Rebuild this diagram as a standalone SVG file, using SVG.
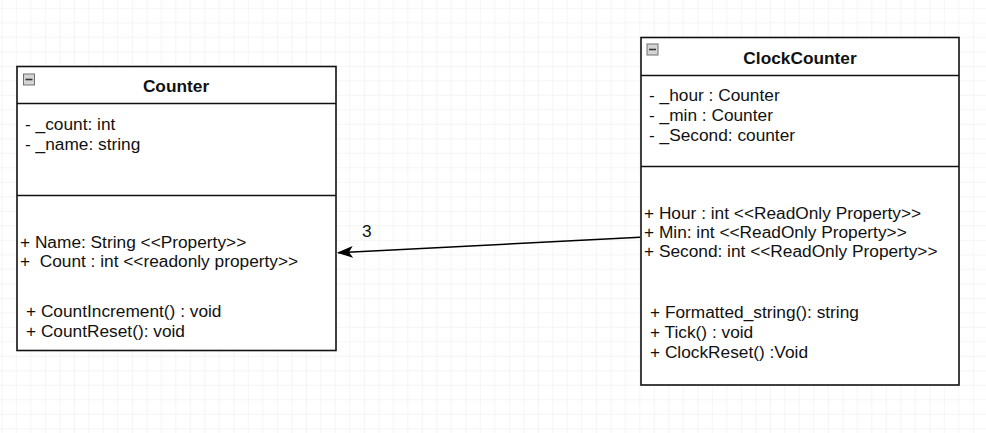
<svg xmlns="http://www.w3.org/2000/svg" width="986" height="433" viewBox="0 0 986 433">
<defs>
<pattern id="grid" x="1.3" y="7.8" width="14.5" height="14.5" patternUnits="userSpaceOnUse">
<path d="M0 0H14.5M0 0V14.5" fill="none" stroke="#ececec" stroke-width="1"/>
</pattern>
<marker id="arrow" viewBox="0 0 16 12" refX="15" refY="6" markerWidth="16" markerHeight="12" markerUnits="userSpaceOnUse" orient="auto">
<path d="M0 0L16 6L0 12L4 6Z" fill="#000"/>
</marker>
<g id="minus">
<rect x="0.5" y="0.5" width="11" height="11" fill="#d4d4d4" stroke="#707070" stroke-width="1"/>
<line x1="2.5" y1="6" x2="9.5" y2="6" stroke="#333" stroke-width="1.6"/>
</g>
</defs>
<style>
text{font-family:"Liberation Sans",Arial,sans-serif;font-size:17.3px;fill:#111}
.title{font-weight:bold;text-anchor:middle}
.box{fill:#fff;stroke:#111;stroke-width:1.6}
.sep{stroke:#111;stroke-width:1.6}
.wsep{stroke:#fff;stroke-width:2.5}
.edge{stroke:#000;stroke-width:1.6;fill:none}
</style>
<rect width="986" height="433" fill="#fff"/>
<rect width="986" height="433" fill="url(#grid)"/>

<g id="node-counter">
<rect class="box" x="17" y="66.5" width="319" height="284"/>
<line class="sep" x1="17" y1="103.5" x2="336" y2="103.5"/>
<line class="sep" x1="17" y1="195.5" x2="336" y2="195.5"/>
<line class="wsep" x1="18" y1="285.5" x2="335" y2="285.5"/>
<use href="#minus" x="23" y="73.5"/>
<text class="title" x="176" y="92">Counter</text>
<text x="25" y="130">- _count: int</text>
<text x="25" y="150">- _name: string</text>
<text x="20" y="248" xml:space="preserve">+ Name: String &lt;&lt;Property&gt;&gt;</text>
<text x="20" y="267" xml:space="preserve">+  Count : int &lt;&lt;readonly property&gt;&gt;</text>
<text x="26" y="317">+ CountIncrement() : void</text>
<text x="26" y="337">+ CountReset(): void</text>
</g>

<g id="node-clockcounter">
<rect class="box" x="641" y="37.5" width="318" height="347.5"/>
<line class="sep" x1="641" y1="75.5" x2="959" y2="75.5"/>
<line class="sep" x1="641" y1="166.5" x2="959" y2="166.5"/>
<line class="wsep" x1="642" y1="285.5" x2="958" y2="285.5"/>
<use href="#minus" x="646.5" y="43.5"/>
<text class="title" x="800" y="64">ClockCounter</text>
<text x="649" y="101">- _hour : Counter</text>
<text x="649" y="121">- _min : Counter</text>
<text x="649" y="141">- _Second: counter</text>
<text x="644" y="219">+ Hour : int &lt;&lt;ReadOnly Property&gt;&gt;</text>
<text x="644" y="238">+ Min: int &lt;&lt;ReadOnly Property&gt;&gt;</text>
<text x="644" y="257">+ Second: int &lt;&lt;ReadOnly Property&gt;&gt;</text>
<text x="650" y="318">+ Formatted_string(): string</text>
<text x="650" y="338">+ Tick() : void</text>
<text x="650" y="358">+ ClockReset() :Void</text>
</g>

<g id="connectors">
<line class="edge" x1="640" y1="237.3" x2="338" y2="252.7" marker-end="url(#arrow)"/>
<text x="362" y="237">3</text>
</g>
</svg>
